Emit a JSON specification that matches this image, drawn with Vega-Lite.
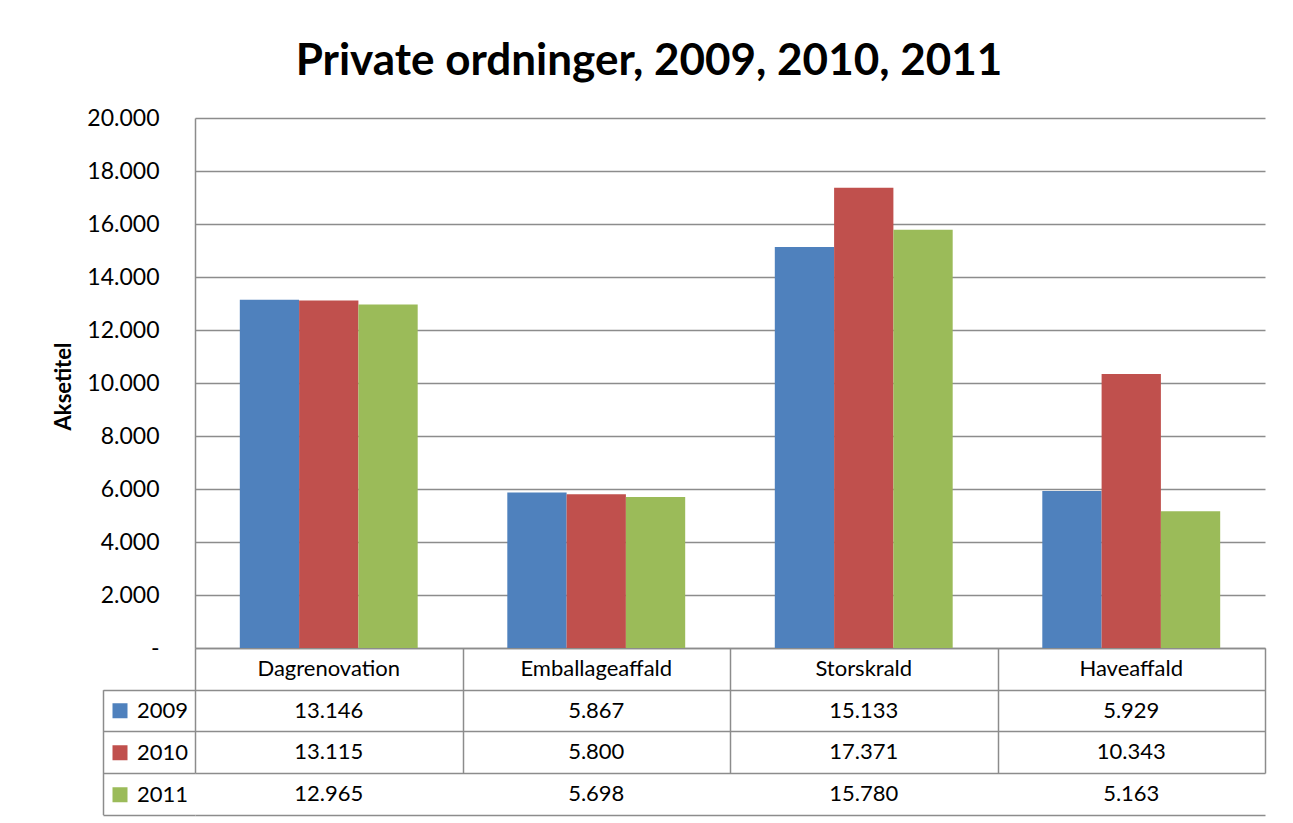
{
  "$schema": "https://vega.github.io/schema/vega-lite/v6.json",
  "background": "white",
  "padding": {"left": 52, "top": 40, "right": 20, "bottom": 5},
  "autosize": {"type": "pad"},
  "title": {"text": "Private ordninger, 2009, 2010, 2011", "font": "Lato", "fontSize": 44, "fontWeight": "bold", "color": "black", "anchor": "middle", "offset": 23, "dx": -10},
  "config": {
    "font": "Lato",
    "locale": {"number": {"decimal": ",", "thousands": ".", "grouping": [3], "currency": ["", ""]}},
    "view": {"stroke": null}
  },
  "spacing": 0,
  "bounds": "flush",
  "datasets": {
    "d": [
      {"category": "Dagrenovation", "year": "2009", "value": 13146},
      {"category": "Emballageaffald", "year": "2009", "value": 5867},
      {"category": "Storskrald", "year": "2009", "value": 15133},
      {"category": "Haveaffald", "year": "2009", "value": 5929},
      {"category": "Dagrenovation", "year": "2010", "value": 13115},
      {"category": "Emballageaffald", "year": "2010", "value": 5800},
      {"category": "Storskrald", "year": "2010", "value": 17371},
      {"category": "Haveaffald", "year": "2010", "value": 10343},
      {"category": "Dagrenovation", "year": "2011", "value": 12965},
      {"category": "Emballageaffald", "year": "2011", "value": 5698},
      {"category": "Storskrald", "year": "2011", "value": 15780},
      {"category": "Haveaffald", "year": "2011", "value": 5163}
    ]
  },
  "vconcat": [
    {
      "width": 1070,
      "height": 530,
      "data": {"name": "d"},
      "mark": {"type": "bar"},
      "encoding": {
        "x": {
          "field": "category", "type": "nominal",
          "sort": ["Dagrenovation", "Emballageaffald", "Storskrald", "Haveaffald"],
          "scale": {"paddingInner": 0.335, "paddingOuter": 0.1675},
          "axis": {"title": null, "labelAngle": 0, "labelFontSize": 22, "labelColor": "black", "labelPadding": 10,
                   "labelBaseline": "top",
                   "domainColor": "#8c8c8c", "domainWidth": 1.5, "ticks": false, "grid": false}
        },
        "xOffset": {"field": "year", "type": "nominal", "scale": {"paddingInner": 0, "paddingOuter": 0}},
        "y": {
          "field": "value", "type": "quantitative",
          "scale": {"domain": [0, 20000], "nice": false},
          "axis": {"title": "Aksetitel", "titleFontSize": 22, "titleFontWeight": "bold", "titleColor": "black", "titlePadding": 11,
                   "titleY": 268,
                   "values": [0, 2000, 4000, 6000, 8000, 10000, 12000, 14000, 16000, 18000, 20000],
                   "format": ",.0f", "labelExpr": "datum.value === 0 ? '-' : datum.label",
                   "labelFontSize": 23, "labelColor": "black", "ticks": false, "labelPadding": 36,
                   "domainColor": "#8c8c8c", "domainWidth": 1.5, "grid": true, "gridColor": "#8c8c8c", "gridWidth": 1.5}
        },
        "color": {
          "field": "year", "type": "nominal",
          "scale": {"domain": ["2009", "2010", "2011"], "range": ["#4F81BD", "#C0504D", "#9BBB59"]},
          "legend": {"orient": "none", "legendX": -86, "legendY": 572, "title": null, "symbolType": "square",
                     "symbolSize": 225, "symbolStrokeWidth": 0, "symbolOpacity": 1, "labelFontSize": 22, "labelColor": "black",
                     "clipHeight": 41.7, "rowPadding": 0, "labelOffset": 6, "padding": 0}
        }
      }
    },
    {
      "width": 1070,
      "height": 166.7,
      "data": {"name": "d"},
      "mark": {"type": "text", "fontSize": 22, "color": "black"},
      "encoding": {
        "x": {
          "field": "category", "type": "nominal",
          "sort": ["Dagrenovation", "Emballageaffald", "Storskrald", "Haveaffald"],
          "scale": {"paddingInner": 0, "paddingOuter": 0},
          "axis": {"title": null, "labels": false, "ticks": false, "domain": false, "grid": true, "tickBand": "extent",
                   "gridColor": "#8c8c8c", "gridWidth": 1.5}
        },
        "y": {
          "field": "year", "type": "nominal",
          "scale": {"domain": ["2009", "2010", "2011"], "range": [41.7, 166.7], "paddingInner": 0, "paddingOuter": 0},
          "axis": {"title": null, "labels": false, "grid": true, "tickBand": "extent", "offset": 92, "tickSize": -92,
                   "domainColor": "#8c8c8c", "domainWidth": 1.5, "tickColor": "#8c8c8c", "tickWidth": 1.5,
                   "gridColor": "#8c8c8c", "gridWidth": 1.5}
        },
        "text": {"field": "value", "type": "quantitative", "format": ",.0f"}
      }
    }
  ]
}
